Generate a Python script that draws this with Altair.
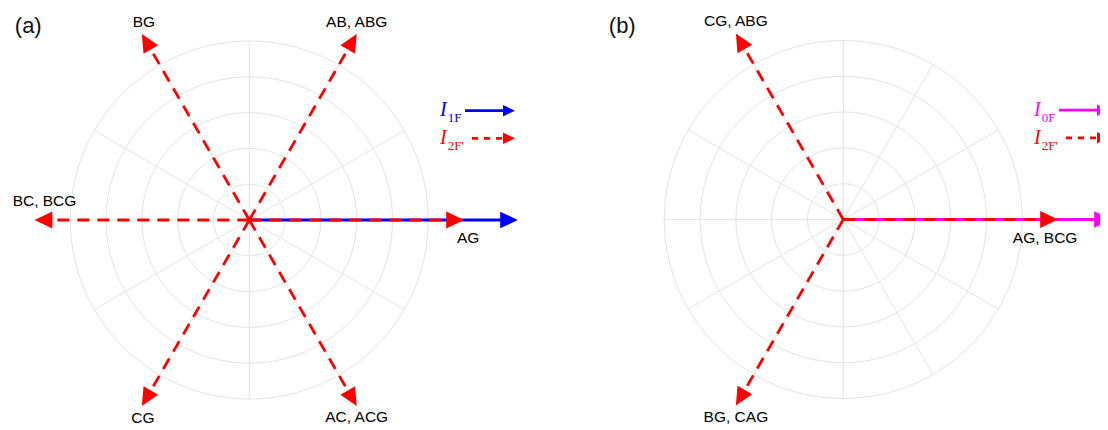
import numpy as np
import pandas as pd
import altair as alt

# ---------------- data ----------------
# panel (a): negative-sequence current I2F' directions for each fault type
a_red_angles = [0, 60, 120, 180, 240, 300]
a_red_mags = [6, 6, 6, 6, 6, 6]
a_red_labels = ["AG", "AB, ABG", "BG", "BC, BCG", "CG", "AC, ACG"]
a_main_angle = [0]
a_main_mag = [7.5]

# panel (b): zero-sequence reference
b_red_angles = [0, 120, 240]
b_red_mags = [6, 6, 6]
b_red_labels = ["AG, BCG", "CG, ABG", "BG, CAG"]
b_main_angle = [0]
b_main_mag = [7.5]

ring_radii = [1, 2, 3, 4, 5]
spoke_angles = list(range(0, 360, 30))

# ---------------- layout ----------------
K = 35.8                      # pixels per ring unit
PW, PH = 546, 414             # panel sizes
A_CENTER = (241.3, 212.0)     # centre inside panel (px)
B_CENTER = (289.3, 211.5)
# label offsets from arrow tip in px (dx right, dy down)
a_lab_off = [(4, 18), (0, -12), (2, -12), (10, -19.5), (1, 12), (0, 11)]
b_lab_off = [(-13, 18), (0, -12), (0, 11)]

RED = "#ff0000"
GRID = "#e3e3e3"
ARROW = "M0,0L-2,-0.95L-2,0.95Z"
SANS = "Liberation Sans"
SERIF = "Liberation Serif"


def domains(center):
    cx, cy = center
    xd = [-cx / K, (PW - cx) / K]
    yd = [-(PH - cy) / K, cy / K]
    return xd, yd


def vec_df(angles, mags, back=0.35):
    th = np.deg2rad(np.array(angles, dtype=float))
    m = np.array(mags, dtype=float)
    return pd.DataFrame({
        "x0": 0.0, "y0": 0.0,
        "x1": (m - back) * np.cos(th), "y1": (m - back) * np.sin(th),
        "xt": m * np.cos(th), "yt": m * np.sin(th),
        "rot": (360 - np.array(angles, dtype=float)) % 360,
    })


def panel(center, red_angles, red_mags, red_labels, lab_off,
          main_angle, main_mag, main_color, main_sub, tag):
    xd, yd = domains(center)
    X = lambda f: alt.X(f, type="quantitative", scale=alt.Scale(domain=xd, nice=False, zero=False), axis=None)
    Y = lambda f: alt.Y(f, type="quantitative", scale=alt.Scale(domain=yd, nice=False, zero=False), axis=None)

    # grid rings
    t = np.arange(0, 361, 3)
    rows = []
    for r in ring_radii:
        for tt in t:
            rows.append({"ring": r, "t": tt,
                         "x": r * np.cos(np.deg2rad(tt)), "y": r * np.sin(np.deg2rad(tt))})
    rings = alt.Chart(pd.DataFrame(rows)).mark_line(color=GRID, strokeWidth=1).encode(
        x=X("x"), y=Y("y"), detail="ring:N", order="t:Q")

    sp = vec_df(spoke_angles, [max(ring_radii)] * len(spoke_angles), back=0)
    spokes = alt.Chart(sp).mark_rule(color=GRID, strokeWidth=1).encode(
        x=X("x0"), y=Y("y0"), x2="xt", y2="yt")

    mv = vec_df(main_angle, main_mag)
    main_line = alt.Chart(mv).mark_rule(color=main_color, strokeWidth=2.8, clip=True).encode(
        x=X("x0"), y=Y("y0"), x2="x1", y2="y1")
    main_head = alt.Chart(mv).mark_point(shape=ARROW, filled=True, size=310, opacity=1,
                                         color=main_color, strokeWidth=0, clip=True).encode(
        x=X("xt"), y=Y("yt"), angle=alt.Angle("rot:Q", scale=None))

    rv = vec_df(red_angles, red_mags)
    red_line = alt.Chart(rv).mark_rule(color=RED, strokeWidth=2.8, strokeDash=[12, 8], clip=True).encode(
        x=X("x0"), y=Y("y0"), x2="x1", y2="y1")
    red_head = alt.Chart(rv).mark_point(shape=ARROW, filled=True, size=320, opacity=1,
                                        color=RED, strokeWidth=0, clip=True).encode(
        x=X("xt"), y=Y("yt"), angle=alt.Angle("rot:Q", scale=None))

    lab = rv[["xt", "yt"]].copy()
    lab["label"] = red_labels
    lab["lx"] = lab["xt"] + np.array([o[0] for o in lab_off]) / K
    lab["ly"] = lab["yt"] - np.array([o[1] for o in lab_off]) / K
    labels = alt.Chart(lab).mark_text(font=SANS, fontSize=15.5, color="#000000",
                                      align="center", baseline="middle").encode(
        x=X("lx"), y=Y("ly"), text="label:N")

    # legend (offsets from centre in px)
    leg_txt = pd.DataFrame({
        "x": [190.7 / K, 198.5 / K, 190.7 / K, 198.5 / K],
        "y": [104 / K, 98 / K, 76 / K, 70 / K],
        "txt": ["I", main_sub, "I", "2F'"],
        "col": [main_color, main_color, RED, RED],
        "kind": ["main", "sub", "main", "sub"],
    })
    leg_I = alt.Chart(leg_txt[leg_txt.kind == "main"]).mark_text(
        font=SERIF, fontStyle="italic", fontSize=20, align="left", baseline="alphabetic").encode(
        x=X("x"), y=Y("y"), text="txt:N", color=alt.Color("col:N", scale=None))
    leg_sub = alt.Chart(leg_txt[leg_txt.kind == "sub"]).mark_text(
        font=SERIF, fontSize=13, align="left", baseline="alphabetic").encode(
        x=X("x"), y=Y("y"), text="txt:N", color=alt.Color("col:N", scale=None))

    lm = pd.DataFrame({"x0": [215.7 / K], "x1": [258 / K], "xt": [265.7 / K],
                       "y": [109.3 / K], "rot": [0.0]})
    lr = pd.DataFrame({"x0": [222.7 / K], "x1": [258 / K], "xt": [265.7 / K],
                       "y": [81.7 / K], "rot": [0.0]})
    leg_m_line = alt.Chart(lm).mark_rule(color=main_color, strokeWidth=2.8, clip=True).encode(
        x=X("x0"), x2="x1", y=Y("y"))
    leg_m_head = alt.Chart(lm).mark_point(shape=ARROW, filled=True, size=144, opacity=1,
                                          color=main_color, strokeWidth=0, clip=True).encode(
        x=X("xt"), y=Y("y"), angle=alt.Angle("rot:Q", scale=None))
    leg_r_line = alt.Chart(lr).mark_rule(color=RED, strokeWidth=2.8, strokeDash=[6, 6], clip=True).encode(
        x=X("x0"), x2="x1", y=Y("y"))
    leg_r_head = alt.Chart(lr).mark_point(shape=ARROW, filled=True, size=144, opacity=1,
                                          color=RED, strokeWidth=0, clip=True).encode(
        x=X("xt"), y=Y("y"), angle=alt.Angle("rot:Q", scale=None))

    tg = pd.DataFrame({"x": [-234.5 / K], "y": [yd[1] - 18 / K], "t": [tag]})
    tag_txt = alt.Chart(tg).mark_text(font=SANS, fontSize=22, align="left", baseline="middle",
                                      color="#111111").encode(x=X("x"), y=Y("y"), text="t:N")

    return alt.layer(rings, spokes, main_line, main_head, red_line, red_head, labels,
                     leg_I, leg_sub, leg_m_line, leg_m_head, leg_r_line, leg_r_head,
                     tag_txt).properties(width=PW, height=PH)


pa = panel(A_CENTER, a_red_angles, a_red_mags, a_red_labels, a_lab_off,
           a_main_angle, a_main_mag, "#0000ff", "1F", "(a)")
pb = panel(B_CENTER, b_red_angles, b_red_mags, b_red_labels, b_lab_off,
           b_main_angle, b_main_mag, "#ff00ff", "0F", "(b)")

chart = alt.hconcat(pa, pb, spacing=0).properties(padding=0).configure_view(stroke=None)
chart.save("out.html", embed_options={"renderer": "svg", "actions": False})
